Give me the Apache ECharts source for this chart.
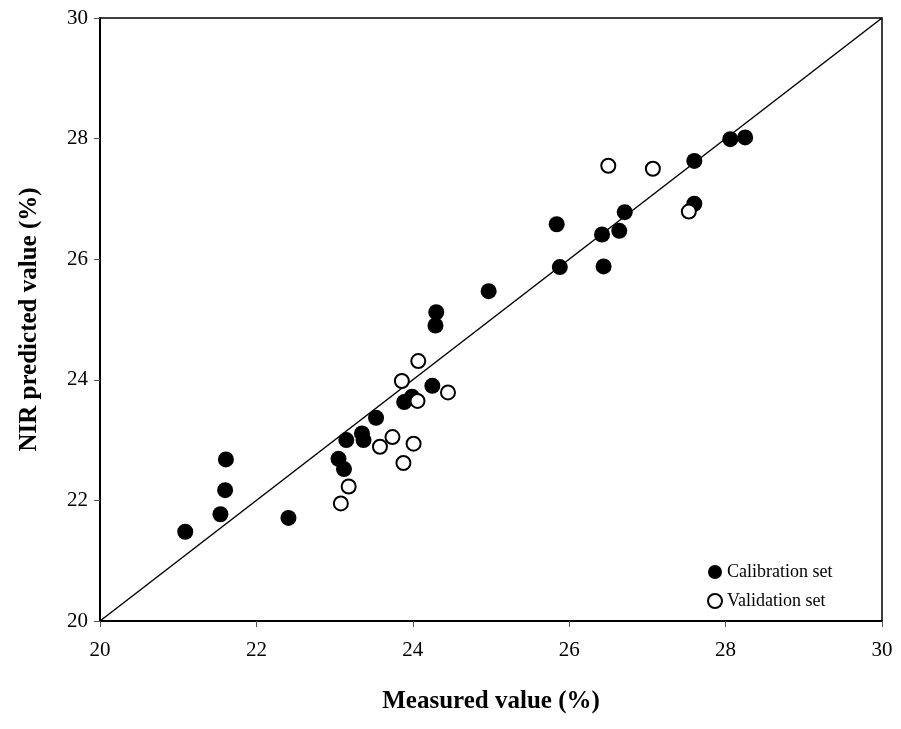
<!DOCTYPE html>
<html>
<head>
<meta charset="utf-8">
<script src="https://cdn.jsdelivr.net/npm/echarts@6/dist/echarts.min.js"></script>
<style>
  html, body { margin: 0; padding: 0; background: #fff; }
  #chart { width: 901px; height: 729px; }
</style>
</head>
<body>
<div id="chart"></div>
<script>
// measured vs NIR predicted
const calMeasured = [21.09, 21.54, 21.60, 21.61, 22.41, 23.05, 23.12, 23.15, 23.35, 23.37, 23.53, 23.89, 23.99, 24.25, 24.29, 24.30, 24.97, 25.84, 25.88, 26.42, 26.44, 26.64, 26.71, 27.60, 27.60, 28.06, 28.25];
const calPredicted = [21.48, 21.77, 22.17, 22.68, 21.71, 22.69, 22.52, 23.00, 23.11, 23.00, 23.37, 23.63, 23.72, 23.90, 24.90, 25.12, 25.47, 26.58, 25.87, 26.41, 25.88, 26.47, 26.78, 27.63, 26.92, 27.99, 28.02];

const valMeasured = [23.08, 23.18, 23.58, 23.74, 23.86, 23.88, 24.01, 24.06, 24.07, 24.45, 26.50, 27.07, 27.53];
const valPredicted = [21.95, 22.23, 22.89, 23.05, 23.98, 22.62, 22.94, 23.65, 24.31, 23.79, 27.55, 27.50, 26.79];

const refLine = [[20, 20], [30, 30]];
const axisTicks = [20, 22, 24, 26, 28, 30];

const FONT = '"Liberation Serif", "Times New Roman", serif';

const zip = (a, b) => a.map((v, i) => [v, b[i]]);

const AXIS = {
  type: 'value',
  min: axisTicks[0],
  max: axisTicks[axisTicks.length - 1],
  interval: axisTicks[1] - axisTicks[0],
  axisLine: { show: true, lineStyle: { color: '#000', width: 2 } },
  axisTick: { show: true, inside: false, length: 6, lineStyle: { color: '#555', width: 1 } },
  splitLine: { show: false },
  axisLabel: { color: '#000', fontFamily: FONT, fontSize: 21 },
  nameLocation: 'middle',
  nameTextStyle: { color: '#000', fontFamily: FONT, fontSize: 25, fontWeight: 'bold' },
};

const c = echarts.init(document.getElementById('chart'), null, { renderer: 'canvas' });
c.setOption({
  animation: false,
  backgroundColor: '#fff',
  grid: { left: 100, right: 19, top: 18, bottom: 108, show: true, borderColor: '#000', borderWidth: 1.5 },
  legend: {
    orient: 'vertical',
    left: 702, top: 558,
    itemGap: 11, itemWidth: 14, itemHeight: 14,
    textStyle: { color: '#000', fontFamily: FONT, fontSize: 18 },
    data: [
      { name: 'Calibration set', icon: 'circle' },
      { name: 'Validation set', icon: 'circle' },
    ],
  },
  xAxis: {
    ...AXIS,
    name: 'Measured value (%)',
    nameGap: 68,
    axisLabel: { ...AXIS.axisLabel, margin: 19 },
  },
  yAxis: {
    ...AXIS,
    name: 'NIR predicted value (%)',
    nameGap: 58,
    axisLabel: { ...AXIS.axisLabel, margin: 12 },
  },
  series: [
    {
      type: 'line', data: refLine, showSymbol: false, silent: true,
      lineStyle: { color: '#000', width: 1.5 }, z: 1,
    },
    {
      name: 'Calibration set', type: 'scatter', data: zip(calMeasured, calPredicted),
      symbol: 'circle', symbolSize: 16,
      itemStyle: { color: '#000', opacity: 1 }, z: 3,
    },
    {
      name: 'Validation set', type: 'scatter', data: zip(valMeasured, valPredicted),
      symbol: 'circle', symbolSize: 14,
      itemStyle: { color: '#fff', borderColor: '#000', borderWidth: 2, opacity: 1 }, z: 4,
    },
  ],
});
</script>
</body>
</html>
